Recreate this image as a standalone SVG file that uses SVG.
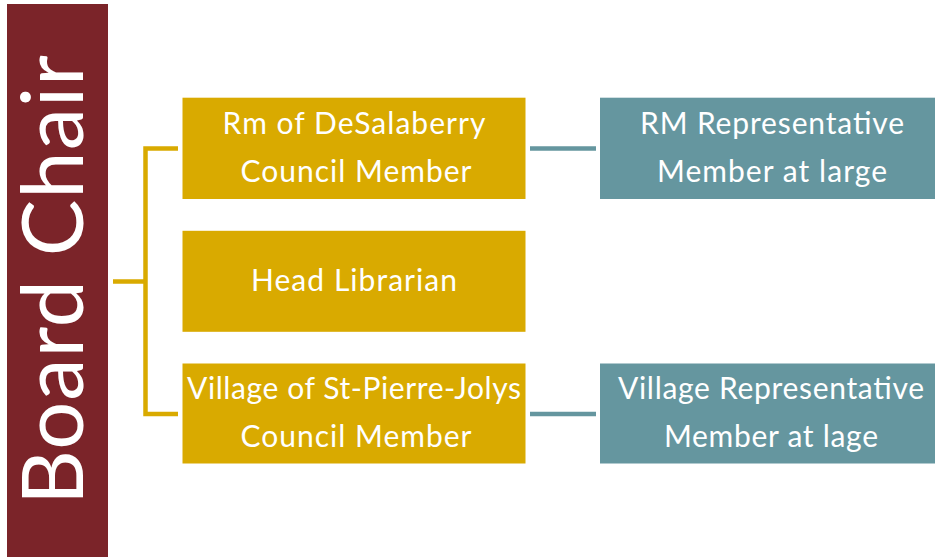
<svg xmlns="http://www.w3.org/2000/svg" width="935" height="557" viewBox="0 0 935 557">
  <style>
    .chair { fill: #7B2429; }
    .gold { fill: #D9AA00; }
    .teal { fill: #65969F; }
    .lbl { font-family: Lato, "Open Sans", "Liberation Sans", sans-serif; font-size: 30px; fill: #FFFFFF; text-anchor: middle; }
    .big { font-family: Lato, "Open Sans", "Liberation Sans", sans-serif; font-size: 85px; fill: #FFFFFF; text-anchor: middle; }
    .goldline { stroke: #D9AA00; stroke-width: 4.5; fill: none; }
    .tealline { stroke: #65969F; stroke-width: 4.5; fill: none; }
  </style>
  <rect width="935" height="557" fill="#FFFFFF"/>

  <g id="connectors">
    <path class="goldline" d="M113 281.5 H146 M178 148.5 H145.5 V414 H178"/>
    <path class="tealline" d="M530 148.5 H596 M530 414 H596"/>
  </g>

  <g id="board-chair">
    <rect class="chair" x="7" y="4" width="101" height="553"/>
    <text class="big" transform="translate(83 280) rotate(-90)" x="0" y="0" textLength="450">Board Chair</text>
  </g>

  <g id="rm-council">
    <rect class="gold" x="182.5" y="97.7" width="343" height="101.3"/>
    <text class="lbl" x="354" y="134" textLength="263">Rm of DeSalaberry</text>
    <text class="lbl" x="356" y="182" textLength="231">Council Member</text>
  </g>

  <g id="head-librarian">
    <rect class="gold" x="182.5" y="230.8" width="343" height="101"/>
    <text class="lbl" x="354" y="291" textLength="206">Head Librarian</text>
  </g>

  <g id="village-council">
    <rect class="gold" x="182.5" y="363.5" width="343" height="100"/>
    <text class="lbl" x="354" y="399" textLength="334">Village of St-Pierre-Jolys</text>
    <text class="lbl" x="356" y="447" textLength="231">Council Member</text>
  </g>

  <g id="rm-representative">
    <rect class="teal" x="600" y="97.7" width="343" height="101.3"/>
    <text class="lbl" x="772" y="134" textLength="264">RM Representative</text>
    <text class="lbl" x="772" y="182" textLength="230">Member at large</text>
  </g>

  <g id="village-representative">
    <rect class="teal" x="600" y="363.5" width="343" height="100"/>
    <text class="lbl" x="771" y="399" textLength="306">Village Representative</text>
    <text class="lbl" x="771" y="447" textLength="214">Member at lage</text>
  </g>
</svg>
